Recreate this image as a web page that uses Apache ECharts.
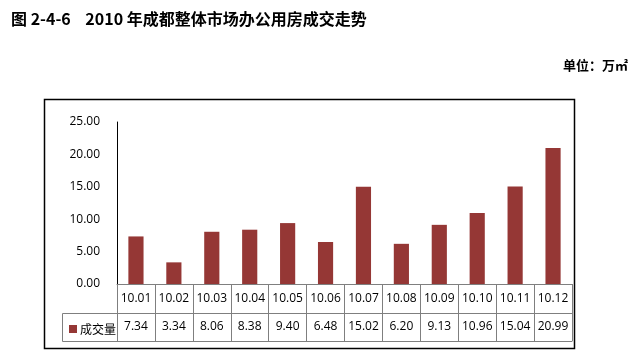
<!DOCTYPE html>
<html><head><meta charset="utf-8">
<script src="https://cdn.jsdelivr.net/npm/echarts@6/dist/echarts.min.js"></script>
<style>html,body{margin:0;padding:0;background:#fff}#c{width:636px;height:357px}</style>
</head><body><div id="c"></div>
<script>
const categories = ['10.01','10.02','10.03','10.04','10.05','10.06','10.07','10.08','10.09','10.10','10.11','10.12'];
const values = [7.34,3.34,8.06,8.38,9.40,6.48,15.02,6.20,9.13,10.96,15.04,20.99];
const seriesName = '成交量';
const titleText = '图 2-4-6    2010 年成都整体市场办公用房成交走势';
const unitText = '单位：万㎡';
const yTicks = {min:0, max:25, interval:5};

const FONT = '"Open Sans","Noto Sans CJK SC",sans-serif';
const CJK = '"Noto Sans CJK SC",sans-serif';
const GRAY = '#7f7f7f';
const chart = echarts.init(document.getElementById('c'), null, {renderer:'canvas'});
const gridL = 117, gridR = 572, gridT = 122, gridB = 284;
chart.setOption({
  animation:false,
  backgroundColor:'#fff',
  title:{text:titleText, left:6, top:6, textStyle:{fontFamily:CJK, fontSize:16, fontWeight:'bold', color:'#000'}},
  legend:{data:[seriesName], left:64, top:318, itemWidth:8, itemHeight:8, itemGap:4, icon:'rect',
    textStyle:{fontFamily:CJK, fontSize:12, color:'#000', padding:[0,0,0,-2]}},
  grid:{left:gridL, right:636-gridR, top:gridT, bottom:357-gridB},
  xAxis:[
    {type:'category', data:categories, position:'bottom',
     axisLine:{show:true, lineStyle:{color:GRAY, width:1}},
     axisTick:{show:true, length:57, interval:0, lineStyle:{color:GRAY}},
     axisLabel:{interval:0, margin:15, verticalAlign:'middle', fontFamily:FONT, fontSize:12, color:'#000'}},
    {type:'category', data:values.map(v=>v.toFixed(2)), position:'bottom', offset:29,
     axisLine:{show:true, lineStyle:{color:GRAY, width:1}},
     axisTick:{show:false},
     axisLabel:{interval:0, margin:14, verticalAlign:'middle', fontFamily:FONT, fontSize:12, color:'#000'}},
    {type:'category', data:categories, position:'bottom', offset:57,
     axisLine:{show:true, lineStyle:{color:GRAY, width:1}},
     axisTick:{show:false}, axisLabel:{show:false}}
  ],
  yAxis:{type:'value', min:yTicks.min, max:yTicks.max, interval:yTicks.interval,
    axisLine:{show:true, lineStyle:{color:'#000', width:1}},
    axisTick:{show:false}, splitLine:{show:false},
    axisLabel:{margin:17, formatter:v=>v.toFixed(2), fontFamily:FONT, fontSize:12, color:'#000'}},
  series:[{name:seriesName, type:'bar', data:values, barWidth:'40%',
    itemStyle:{color:'#953735'}}],
  graphic:[
    {type:'rect', shape:{x:44.5, y:99.5, width:530, height:249}, style:{fill:null, stroke:'#000', lineWidth:1.5}, z:-1},
    {type:'polyline', shape:{points:[[gridL,313.5],[62.5,313.5],[62.5,341.5],[gridL,341.5]]}, style:{fill:null, stroke:GRAY, lineWidth:1}},
    {type:'text', right:8, top:59, style:{text:unitText, font:'bold 13px '+CJK, fill:'#000'}}
  ]
});
</script></body></html>
